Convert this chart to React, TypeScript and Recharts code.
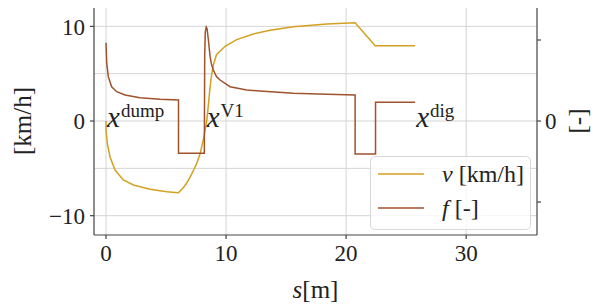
import React from 'react';
import { LineChart, Line, XAxis, YAxis, CartesianGrid, Legend, ReferenceDot } from 'recharts';

// ---- data ----
const velocityS = [0, 0.001, 0.11, 0.33, 0.75, 1.44, 2.28, 3.67, 5.06, 6.03, 6.4, 6.7, 7.1, 7.55, 7.85, 8.1, 8.25, 8.4, 8.55, 8.67, 8.8, 8.94, 9.2, 9.92, 10.89, 12.28, 13.67, 15.6, 18.4, 20.75, 22.42, 25.75];
const velocity = [0, -0.95, -2.36, -3.77, -5.18, -6.23, -6.76, -7.2, -7.47, -7.57, -7.1, -6.6, -5.7, -4.5, -3.4, -2.0, -1.0, 0.1, 2.0, 3.6, 4.9, 5.9, 7.0, 7.9, 8.6, 9.2, 9.6, 9.96, 10.25, 10.39, 7.96, 7.96];

const factorS = [0, 0.06, 0.19, 0.47, 0.89, 1.58, 2.83, 4.5, 6.04, 6.04, 8.19, 8.22, 8.27, 8.35, 8.42, 8.53, 8.67, 8.8, 8.94, 9.2, 9.5, 10.33, 11.72, 12.83, 15.6, 18.4, 20.75, 20.75, 22.45, 22.45, 25.75];
const factor = [0.967, 0.711, 0.547, 0.423, 0.362, 0.321, 0.288, 0.268, 0.259, -0.399, -0.399, 0.8, 1.1, 1.16, 1.14, 1.0, 0.794, 0.69, 0.63, 0.55, 0.506, 0.423, 0.383, 0.37, 0.342, 0.33, 0.321, -0.407, -0.407, 0.231, 0.231];

const annotationS = [0, 8.3, 25.75];
const annotationLabels = ['dump', 'V1', 'dig'];

const legendOrder = ['v', 'f'];

const xTicks = [0, 10, 20, 30];
const leftTicks = [-10, 0, 10];
const rightTicks = [-1, 0, 1];
const gridX = [0, 10, 20, 30];
const gridY = [-10, -5, 0, 5, 10];

const xDomain = [-1.0, 35.9];
const leftDomain = [-12.04, 11.94];
const rightDomain = [-1.407, 1.395];

const velocityData = velocityS.map((s, i) => ({ s, v: velocity[i] }));
const factorData = factorS.map((s, i) => ({ s, f: factor[i] }));

// ---- style ----
const FONT = '"Liberation Serif", "Times New Roman", serif';
const GOLD = '#D4A020';
const BROWN = '#A0522D';
const FRAME = '#444';
const GRID = '#d4d4d4';
const TXT = '#222';

const renderLegend = (props: any) => {
  const payload = [...((props && props.payload) || [])].sort(
    (a: any, b: any) => legendOrder.indexOf(String(a.dataKey)) - legendOrder.indexOf(String(b.dataKey))
  );
  return (
    <div
      style={{
        width: 161,
        height: 74,
        boxSizing: 'border-box',
        border: '1px solid #d8d8d8',
        borderRadius: 5,
        background: 'rgba(255,255,255,0.8)',
        position: 'relative',
      }}
    >
      <svg width={161} height={74} style={{ position: 'absolute', left: -1, top: -1 }}>
        {payload.map((entry: any, i: number) => {
          const y = 18 + i * 34;
          const name = String(entry.value);
          const sp = name.indexOf(' ');
          const sym = name.slice(0, sp);
          const rest = name.slice(sp);
          return (
            <g key={i}>
              <line x1={8} x2={54} y1={y} y2={y} stroke={entry.color} strokeWidth={1.5} />
              <text x={72} y={y + 8} fontFamily={FONT} fontSize={24} fill={TXT}>
                <tspan fontStyle="italic">{sym}</tspan>
                <tspan xmlSpace="preserve">{rest}</tspan>
              </text>
            </g>
          );
        })}
      </svg>
    </div>
  );
};

const makeAnnotation = (label: string) => (p: any) => (
  <text x={p.cx + 1} y={p.cy + 6} fontFamily={FONT} fill={TXT}>
    <tspan fontStyle="italic" fontSize={29}>x</tspan>
    <tspan fontSize={19} dy={-10} dx={1}>{label}</tspan>
  </text>
);

export default function App() {
  return (
    <div style={{ position: 'absolute', left: 0, top: 0, width: 598, height: 307, background: '#fff' }}>
      <LineChart width={598} height={307} margin={{ top: 8, right: 0, bottom: 0, left: 0 }}>
        <CartesianGrid
          yAxisId="left"
          stroke={GRID}
          strokeWidth={1}
          horizontalValues={gridY}
          verticalValues={gridX}
        />
        <XAxis
          type="number"
          dataKey="s"
          domain={xDomain}
          ticks={xTicks}
          allowDataOverflow
          height={72}
          stroke={FRAME}
          strokeWidth={1.2}
          tickSize={4}
          tickMargin={6}
          tick={{ fontSize: 23, fill: TXT, fontFamily: FONT }}
          label={{
            content: (lp: any) => {
              const vb = lp.viewBox || { x: 94, width: 443, y: 235 };
              const cx = vb.x + vb.width / 2;
              return (
                <text x={cx} y={298} textAnchor="middle" fontFamily={FONT} fontSize={25} fill={TXT}>
                  <tspan fontStyle="italic">s</tspan>
                  <tspan>[m]</tspan>
                </text>
              );
            },
          }}
        />
        <XAxis
          xAxisId="top"
          orientation="top"
          type="number"
          dataKey="s"
          domain={xDomain}
          allowDataOverflow
          height={0}
          tick={false}
          tickLine={false}
          stroke={FRAME}
          strokeWidth={1.2}
        />
        <YAxis
          yAxisId="left"
          type="number"
          domain={leftDomain}
          ticks={leftTicks}
          allowDataOverflow
          width={94}
          stroke={FRAME}
          strokeWidth={1.2}
          tickSize={4}
          tickMargin={5}
          tick={{ fontSize: 23, fill: TXT, fontFamily: FONT }}
          tickFormatter={(v: number) => (v < 0 ? '\u2212' + Math.abs(v) : String(v))}
          label={{
            content: () => (
              <text
                x={22}
                y={121}
                transform="rotate(-90 22 121)"
                textAnchor="middle"
                dominantBaseline="central"
                fontFamily={FONT}
                fontSize={25}
                fill={TXT}
              >
                [km/h]
              </text>
            ),
          }}
        />
        <YAxis
          yAxisId="right"
          orientation="right"
          type="number"
          domain={rightDomain}
          ticks={rightTicks}
          allowDataOverflow
          width={61}
          stroke={FRAME}
          strokeWidth={1.2}
          tickSize={4}
          tickMargin={4}
          tick={{ fontSize: 23, fill: TXT, fontFamily: FONT }}
          tickFormatter={(v: number) => (v === 0 ? '0' : '')}
          label={{
            content: () => (
              <text
                x={577}
                y={121}
                transform="rotate(-90 577 121)"
                textAnchor="middle"
                dominantBaseline="central"
                fontFamily={FONT}
                fontSize={25}
                fill={TXT}
              >
                [-]
              </text>
            ),
          }}
        />
        <Legend
          layout="vertical"
          align="center"
          verticalAlign="middle"
          content={renderLegend}
          wrapperStyle={{ left: 370, top: 156, width: 161, height: 74 }}
        />
        <Line
          yAxisId="left"
          data={velocityData}
          dataKey="v"
          name="v [km/h]"
          type="linear"
          stroke={GOLD}
          strokeWidth={1.5}
          dot={false}
          activeDot={false}
          isAnimationActive={false}
        />
        <Line
          yAxisId="right"
          data={factorData}
          dataKey="f"
          name="f [-]"
          type="linear"
          stroke={BROWN}
          strokeWidth={1.5}
          dot={false}
          activeDot={false}
          isAnimationActive={false}
        />
        {annotationS.map((s, i) => (
          <ReferenceDot
            key={i}
            yAxisId="left"
            x={s}
            y={0}
            r={0}
            ifOverflow="visible"
            shape={makeAnnotation(annotationLabels[i])}
          />
        ))}
      </LineChart>
    </div>
  );
}
